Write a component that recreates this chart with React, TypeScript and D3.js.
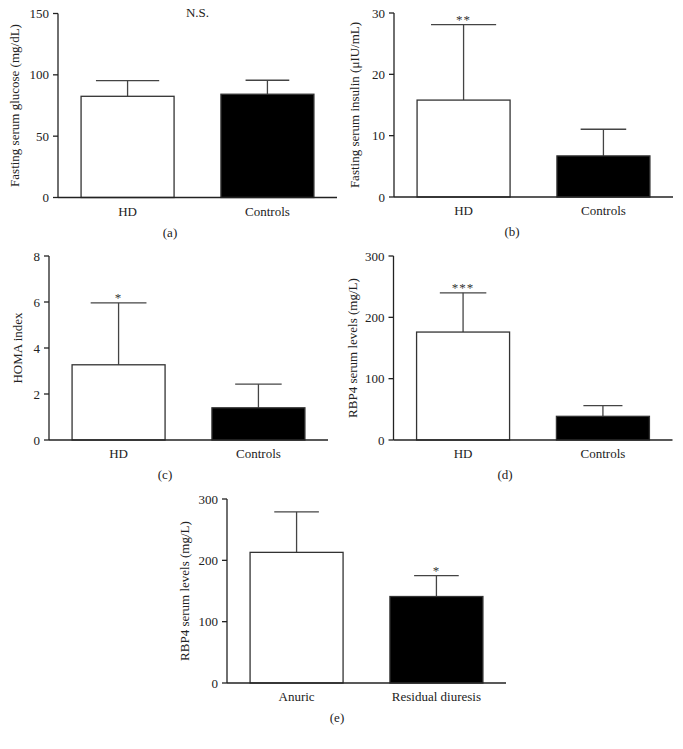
import React from "react";
import * as d3 from "d3";

// ---- data ----
const groupCats = ["HD", "Controls"];
const diuresisCats = ["Anuric", "Residual diuresis"];

const glucoseMeans = [82.5, 84.2];
const glucoseSD = [12.8, 11.4];
const glucoseTicks = [0, 50, 100, 150];

const insulinMeans = [15.8, 6.7];
const insulinSD = [12.3, 4.35];
const insulinTicks = [0, 10, 20, 30];

const homaMeans = [3.27, 1.4];
const homaSD = [2.69, 1.03];
const homaTicks = [0, 2, 4, 6, 8];

const rbp4Means = [176, 38.6];
const rbp4SD = [64, 17.4];
const rbp4Ticks = [0, 100, 200, 300];

const rbp4DiuresisMeans = [213, 141];
const rbp4DiuresisSD = [66, 34];

const starsInsulin = ["**", ""];
const starsHoma = ["*", ""];
const starsRbp4 = ["***", ""];
const starsDiuresis = ["", "*"];

const panelLetters = ["(a)", "(b)", "(c)", "(d)", "(e)"];
const yLabels = [
  "Fasting serum glucose (mg/dL)",
  "Fasting serum insulin (\u03bcIU/mL)",
  "HOMA index",
  "RBP4 serum levels (mg/L)",
  "RBP4 serum levels (mg/L)",
];

// ---- layout ----
const FONT = "'Liberation Serif', 'Times New Roman', serif";
const PLOT_W = 279;
const PLOT_H = 184;
const fills = ["#ffffff", "#000000"];

type Cfg = {
  cats: string[];
  means: number[];
  sd: number[];
  ticks: number[];
  stars: string[];
  title?: string;
  yLabel: string;
  letter: string;
  x0: number;
  y0: number;
  labelOff: number;
  letterX: number;
  caps: number[];
};

const panels: Cfg[] = [
  { cats: groupCats, means: glucoseMeans, sd: glucoseSD, ticks: glucoseTicks, stars: ["", ""], title: "N.S.", yLabel: yLabels[0], letter: panelLetters[0], x0: 58, y0: 13.5, labelOff: 39, letterX: 170, caps: [0.68, 0.47] },
  { cats: groupCats, means: insulinMeans, sd: insulinSD, ticks: insulinTicks, stars: starsInsulin, yLabel: yLabels[1], letter: panelLetters[1], x0: 394, y0: 13, labelOff: 35, letterX: 512, caps: [0.7, 0.49] },
  { cats: groupCats, means: homaMeans, sd: homaSD, ticks: homaTicks, stars: starsHoma, yLabel: yLabels[2], letter: panelLetters[2], x0: 49, y0: 256, labelOff: 27, letterX: 165, caps: [0.6, 0.5] },
  { cats: groupCats, means: rbp4Means, sd: rbp4SD, ticks: rbp4Ticks, stars: starsRbp4, yLabel: yLabels[3], letter: panelLetters[3], x0: 393.5, y0: 256, labelOff: 37, letterX: 505, caps: [0.5, 0.42] },
  { cats: diuresisCats, means: rbp4DiuresisMeans, sd: rbp4DiuresisSD, ticks: rbp4Ticks, stars: starsDiuresis, yLabel: yLabels[4], letter: panelLetters[4], x0: 227, y0: 499, labelOff: 38, letterX: 337, caps: [0.48, 0.48] },
];

function Panel({ c }: { c: Cfg }) {
  const x = d3
    .scaleBand<string>()
    .domain(c.cats)
    .range([c.x0, c.x0 + PLOT_W])
    .paddingInner(0.335)
    .paddingOuter(0.165);
  const yMax = c.ticks[c.ticks.length - 1];
  const y = d3.scaleLinear().domain([0, yMax]).range([c.y0 + PLOT_H, c.y0]);
  const bw = x.bandwidth();
  const base = y(0);
  return (
    <g>
      {/* bars */}
      {c.cats.map((cat, i) => {
        const bx = x(cat)!;
        const top = y(c.means[i]);
        const errTop = y(c.means[i] + c.sd[i]);
        const cx = bx + bw / 2;
        const capW = bw * c.caps[i];
        return (
          <g key={cat}>
            <line x1={cx} x2={cx} y1={top} y2={errTop} stroke="#444" strokeWidth={1.3} />
            <line x1={cx - capW / 2} x2={cx + capW / 2} y1={errTop} y2={errTop} stroke="#444" strokeWidth={1.3} />
            <rect x={bx} y={top} width={bw} height={base - top} fill={fills[i]} stroke="#333" strokeWidth={1.3} />
            {c.stars[i] ? (
              <text x={cx} y={errTop - 1} textAnchor="middle" fontSize={13} fill="#333" fontFamily={FONT} letterSpacing={1}>
                {c.stars[i]}
              </text>
            ) : null}
            <text x={cx} y={base + 18} textAnchor="middle" fontSize={13} fill="#222" fontFamily={FONT}>
              {cat}
            </text>
          </g>
        );
      })}
      {/* axes */}
      <line x1={c.x0} x2={c.x0} y1={c.y0} y2={base} stroke="#222" strokeWidth={1.3} />
      <line x1={c.x0} x2={c.x0 + PLOT_W} y1={base} y2={base} stroke="#222" strokeWidth={1.3} />
      {c.ticks.map((t) => (
        <g key={t}>
          <line x1={c.x0 - 5} x2={c.x0} y1={y(t)} y2={y(t)} stroke="#222" strokeWidth={1.3} />
          <text x={c.x0 - 9} y={y(t)} dy="0.35em" textAnchor="end" fontSize={13} fill="#222" fontFamily={FONT}>
            {t}
          </text>
        </g>
      ))}
      {c.title ? (
        <text x={c.x0 + PLOT_W / 2} y={c.y0 + 3.5} textAnchor="middle" fontSize={13} fill="#222" fontFamily={FONT}>
          {c.title}
        </text>
      ) : null}
      <text
        transform={`translate(${c.x0 - c.labelOff},${c.y0 + PLOT_H / 2}) rotate(-90)`}
        textAnchor="middle"
        fontSize={13}
        fill="#222"
        fontFamily={FONT}
      >
        {c.yLabel}
      </text>
      <text x={c.letterX} y={base + 39} textAnchor="middle" fontSize={13} fill="#222" fontFamily={FONT}>
        {c.letter}
      </text>
    </g>
  );
}

export default function App() {
  return (
    <svg
      width={683}
      height={749}
      style={{ position: "absolute", left: 0, top: 0, background: "#fff" }}
    >
      <rect x={0} y={0} width={683} height={749} fill="#fff" />
      {panels.map((p, i) => (
        <Panel key={i} c={p} />
      ))}
    </svg>
  );
}
